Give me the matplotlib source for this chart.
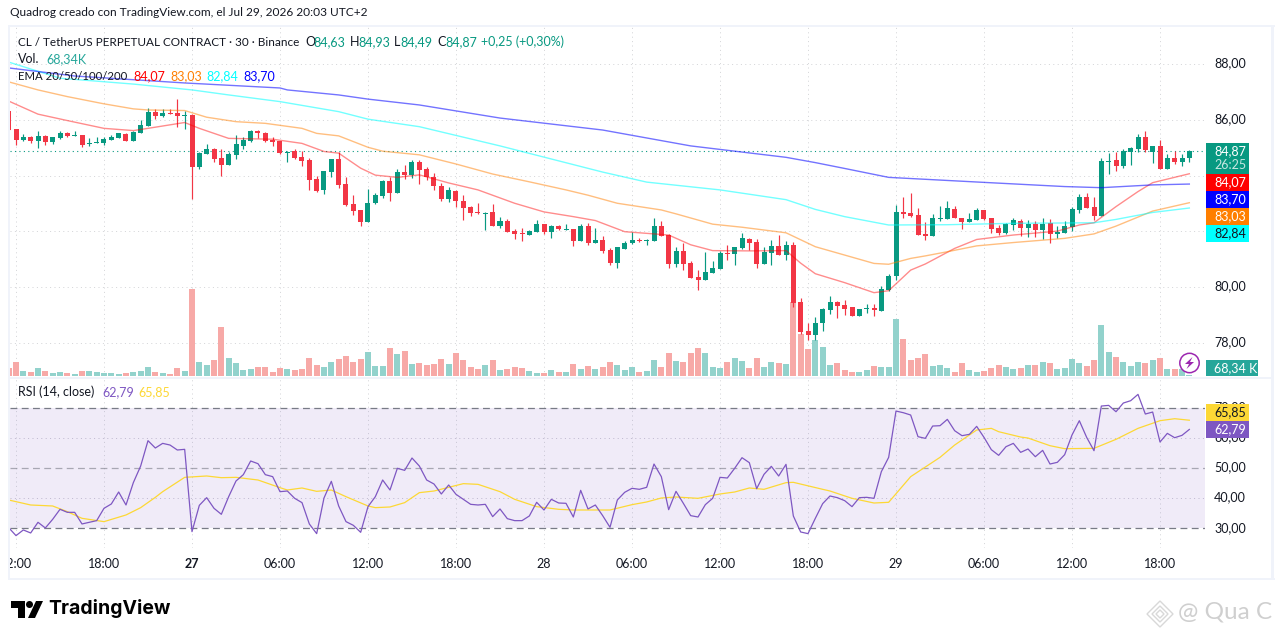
import numpy as np
import matplotlib
matplotlib.use('Agg')
import matplotlib.pyplot as plt
from matplotlib.patches import Rectangle, Circle, Polygon

# CANVAS (PIXELS)
WIDTH, HEIGHT = 1281, 639
PANE_L, PANE_R = 10, 1205
PRICE_TOP, PRICE_BOTTOM = 27, 376
RSI_TOP, RSI_BOTTOM = 379, 548
BAR_PX = 88 / 12  # 12 half-hour bars per 6h tick
BAR0_PX = 16

UP_COLOR = '#089981'
DOWN_COLOR = '#f23645'
VOL_UP_COLOR = '#92d2cc'
VOL_DOWN_COLOR = '#f7a9a7'
TEXT_COLOR = '#131722'
FONT = 'Lato'

## DATA
first_bar = -1
opens = [86.33, 85.68, 85.28, 85.39, 85.25, 85.43, 85.21, 85.36, 85.54, 85.43, 85.46, 85.14, 85.18, 85.18, 85.28, 85.36, 85.50, 85.25, 85.54, 85.79,
         86.29, 86.15, 86.25, 86.25, 86.15, 86.18, 84.32, 84.78, 84.96, 84.64, 84.39, 84.75, 85.07, 85.25, 85.61, 85.54, 85.28, 85.25, 84.82, 84.89,
         84.67, 84.57, 83.88, 83.49, 84.14, 84.60, 83.70, 82.99, 82.77, 82.34, 83.02, 83.27, 83.81, 83.38, 84.14, 84.03, 84.50, 84.25, 83.95, 83.62,
         83.17, 83.45, 83.09, 82.88, 82.70, 82.63, 82.70, 82.20, 82.38, 82.02, 81.95, 81.87, 81.98, 82.27, 81.98, 82.20, 82.05, 82.09, 81.66, 82.20,
         81.59, 81.69, 81.34, 80.87, 81.37, 81.59, 81.69, 81.66, 81.66, 82.20, 81.87, 80.83, 81.30, 80.87, 80.37, 80.26, 80.51, 80.65, 81.23, 81.19,
         81.41, 81.73, 81.62, 80.83, 81.23, 81.48, 81.16, 81.52, 79.47, 78.43, 78.28, 78.71, 79.18, 79.47, 79.36, 79.28, 78.96, 79.21, 79.25, 79.14,
         79.90, 80.40, 82.70, 82.66, 82.59, 81.91, 81.83, 82.44, 82.44, 82.80, 82.48, 82.34, 82.41, 82.77, 82.48, 82.12, 81.94, 82.23, 82.37, 82.12,
         82.27, 82.05, 82.30, 81.91, 81.94, 82.16, 82.77, 83.23, 82.88, 82.55, 84.49, 84.56, 84.35, 84.85, 84.96, 85.39, 84.85, 85.07, 84.24, 84.64,
         84.49, 84.63]
highs = [86.33, 85.68, 85.50, 85.43, 85.61, 85.46, 85.39, 85.61, 85.57, 85.61, 85.46, 85.36, 85.39, 85.39, 85.46, 85.54, 85.54, 85.61, 86.00, 86.43,
         86.40, 86.40, 86.40, 86.76, 86.33, 86.22, 84.85, 85.14, 85.00, 84.96, 84.85, 85.46, 85.39, 85.64, 85.64, 85.57, 85.39, 85.25, 84.89, 84.96,
         84.89, 84.64, 83.99, 84.17, 84.60, 84.85, 83.96, 83.31, 82.77, 83.53, 83.38, 83.85, 83.96, 84.24, 84.39, 84.57, 84.57, 84.32, 84.10, 83.72,
         83.58, 83.50, 83.31, 82.92, 83.02, 82.70, 82.99, 82.52, 82.45, 82.09, 82.13, 82.05, 82.41, 82.27, 82.23, 82.23, 82.27, 82.09, 82.27, 82.30,
         82.13, 81.84, 81.41, 81.44, 81.66, 81.98, 81.77, 81.73, 82.48, 82.38, 81.91, 81.44, 81.59, 80.94, 80.62, 81.26, 80.94, 81.30, 81.52, 81.44,
         81.95, 81.77, 81.73, 81.44, 81.69, 81.87, 81.66, 81.62, 79.61, 78.71, 78.93, 79.25, 79.68, 79.50, 79.54, 79.28, 79.21, 79.39, 79.39, 80.04,
         80.47, 82.95, 83.23, 83.38, 82.84, 82.34, 82.62, 82.91, 83.09, 82.91, 82.48, 82.66, 82.84, 82.77, 82.48, 82.23, 82.30, 82.48, 82.44, 82.41,
         82.37, 82.48, 82.44, 82.19, 82.37, 82.88, 83.34, 83.38, 83.23, 84.64, 84.82, 84.85, 84.96, 85.03, 85.50, 85.60, 85.07, 85.28, 84.78, 84.89,
         84.78, 84.93]
lows = [85.64, 85.11, 85.25, 85.18, 85.00, 85.11, 85.14, 85.32, 85.39, 85.43, 85.03, 85.07, 85.18, 85.11, 85.28, 85.36, 85.25, 85.25, 85.54, 85.79,
        86.04, 86.11, 86.22, 85.75, 85.68, 83.17, 84.24, 84.78, 84.50, 83.99, 84.39, 84.60, 84.96, 85.21, 85.36, 85.21, 85.07, 84.78, 84.50, 84.60,
        84.35, 83.49, 83.42, 83.35, 83.96, 83.56, 82.92, 82.59, 82.20, 82.34, 82.99, 83.20, 83.09, 83.38, 83.88, 83.92, 83.70, 83.85, 83.50, 83.10,
        83.06, 82.88, 82.41, 82.56, 82.63, 82.05, 82.20, 82.13, 81.98, 81.73, 81.66, 81.87, 81.98, 81.91, 81.77, 82.05, 82.05, 81.48, 81.66, 81.52,
        81.59, 81.23, 80.80, 80.69, 81.37, 81.55, 81.62, 81.52, 81.66, 81.84, 80.69, 80.72, 80.62, 80.33, 79.90, 80.26, 80.51, 80.65, 80.98, 80.80,
        81.37, 81.34, 80.69, 80.83, 80.80, 81.16, 80.98, 79.29, 78.32, 78.10, 78.10, 78.43, 79.04, 78.89, 79.00, 78.96, 78.96, 79.07, 78.96, 79.14,
        79.86, 80.25, 82.48, 82.52, 81.87, 81.69, 81.83, 82.37, 82.44, 82.48, 82.09, 82.34, 82.41, 82.41, 81.94, 81.87, 81.91, 82.05, 81.83, 81.80,
        81.80, 81.73, 81.58, 81.76, 81.94, 82.01, 82.66, 82.84, 82.41, 82.55, 84.06, 84.17, 84.28, 84.38, 84.85, 84.85, 84.46, 84.24, 84.24, 84.42,
        84.35, 84.49]
closes = [85.64, 85.28, 85.39, 85.25, 85.43, 85.21, 85.39, 85.54, 85.43, 85.46, 85.11, 85.18, 85.21, 85.32, 85.39, 85.54, 85.25, 85.57, 85.82, 86.29,
          86.15, 86.25, 86.22, 86.15, 86.18, 84.32, 84.82, 84.96, 84.60, 84.39, 84.78, 85.14, 85.28, 85.61, 85.54, 85.25, 85.21, 84.82, 84.85, 84.64,
          84.53, 83.85, 83.45, 84.17, 84.60, 83.67, 82.95, 82.73, 82.34, 83.02, 83.31, 83.81, 83.38, 84.14, 84.03, 84.50, 84.21, 83.95, 83.62, 83.17,
          83.50, 83.09, 82.84, 82.66, 82.66, 82.66, 82.20, 82.38, 81.98, 81.91, 81.91, 82.02, 82.27, 81.98, 82.20, 82.09, 82.09, 81.66, 82.20, 81.59,
          81.69, 81.30, 80.87, 81.44, 81.59, 81.69, 81.66, 81.69, 82.20, 81.84, 80.83, 81.30, 80.83, 80.33, 80.26, 80.55, 80.69, 81.23, 81.19, 81.44,
          81.77, 81.59, 80.83, 81.26, 81.48, 81.16, 81.52, 79.43, 78.39, 78.28, 78.71, 79.22, 79.47, 79.32, 79.21, 78.96, 79.21, 79.25, 79.18, 79.93,
          80.40, 82.70, 82.62, 82.55, 81.87, 81.83, 82.48, 82.48, 82.84, 82.48, 82.34, 82.44, 82.77, 82.44, 82.09, 81.94, 82.27, 82.41, 82.12, 82.27,
          82.05, 82.27, 81.91, 81.98, 82.19, 82.80, 83.23, 82.84, 82.55, 84.53, 84.53, 84.35, 84.89, 84.99, 85.39, 84.92, 85.07, 84.24, 84.64, 84.49,
          84.64, 84.87]
volumes_k = [547, 957, 342, 273, 547, 342, 205, 273, 205, 137, 342, 342, 273, 205, 205, 137, 205, 273, 342, 615,
             273, 205, 137, 547, 342, 5946, 957, 752, 1093, 3349, 1230, 888, 410, 478, 615, 615, 273, 547, 478, 410,
             478, 1230, 752, 615, 957, 1162, 1367, 957, 1162, 1640, 683, 683, 1913, 1503, 1708, 820, 888, 752, 820, 1162,
             820, 1572, 1093, 615, 478, 752, 1093, 410, 478, 615, 547, 342, 205, 205, 410, 273, 273, 820, 478, 683,
             478, 615, 957, 752, 410, 615, 273, 342, 1093, 615, 1572, 1025, 957, 1572, 1913, 1572, 615, 547, 957, 1230,
             1025, 547, 1230, 615, 957, 888, 820, 5057, 2870, 1845, 2460, 1982, 752, 888, 410, 273, 273, 410, 683, 615,
             615, 3895, 2528, 1093, 1230, 1503, 683, 752, 547, 273, 888, 410, 273, 342, 547, 752, 615, 478, 547, 752,
             752, 957, 888, 478, 547, 1162, 888, 683, 1093, 3485, 1640, 1298, 957, 683, 957, 888, 1093, 1230, 478, 478,
             478, 68]

ema20_bars = [-1, 3, 7, 12, 16, 18, 23, 25, 29, 35, 39, 42, 44, 47, 49, 52, 55, 59, 63, 68, 72, 76, 79, 83, 87, 89, 92, 95, 100, 105, 107, 109, 113, 117, 119, 122, 124, 128, 131, 136, 142, 145, 147, 150, 153, 155, 160]
ema20 = [86.68, 86.21, 85.98, 85.70, 85.62, 85.70, 85.91, 85.70, 85.34, 85.31, 85.16, 84.87, 84.81, 84.27, 84.02, 83.94, 84.03, 83.74, 83.49, 83.01, 82.70, 82.53, 82.39, 81.99, 81.91, 81.87, 81.52, 81.31, 81.30, 81.31, 80.86, 80.48, 80.16, 79.80, 79.87, 80.61, 80.83, 81.39, 81.71, 81.87, 82.01, 82.23, 82.31, 82.89, 83.43, 83.75, 84.07]
ema50_bars = [-1, 3, 7, 12, 16, 18, 23, 26, 30, 34, 39, 41, 44, 48, 50, 55, 60, 65, 70, 75, 78, 82, 88, 90, 95, 99, 105, 109, 113, 117, 119, 122, 124, 127, 131, 136, 143, 147, 150, 155, 160]
ema50 = [87.37, 87.08, 86.84, 86.58, 86.40, 86.36, 86.34, 86.10, 85.94, 85.88, 85.70, 85.52, 85.43, 85.02, 84.88, 84.75, 84.42, 84.06, 83.78, 83.49, 83.30, 83.01, 82.77, 82.63, 82.26, 82.15, 81.95, 81.45, 81.15, 80.85, 80.82, 81.03, 81.12, 81.27, 81.48, 81.60, 81.75, 81.91, 82.19, 82.73, 83.03]
ema100_bars = [-1, 6, 16, 24, 29, 36, 44, 48, 55, 66, 80, 86, 96, 105, 109, 113, 119, 127, 136, 147, 150, 155, 160]
ema100 = [88.08, 87.50, 87.29, 87.08, 86.90, 86.66, 86.30, 86.03, 85.76, 85.07, 84.13, 83.77, 83.49, 83.14, 82.79, 82.53, 82.23, 82.24, 82.29, 82.31, 82.43, 82.68, 82.84]
ema200_bars = [-1, 8, 23, 36, 37, 44, 48, 55, 66, 80, 92, 105, 109, 113, 119, 132, 143, 148, 155, 160]
ema200 = [87.87, 87.58, 87.33, 87.15, 87.08, 86.90, 86.75, 86.54, 86.07, 85.64, 85.07, 84.66, 84.47, 84.26, 83.94, 83.76, 83.61, 83.57, 83.67, 83.70]

rsi_values = [30.22, 27.57, 29.45, 28.45, 31.99, 30.11, 32.98, 36.30, 35.30, 35.30, 31.44, 31.99, 32.54, 36.63, 38.07, 42.04, 37.73, 45.14, 50.66, 59.06,
              56.63, 58.17, 57.62, 55.97, 56.19, 28.89, 37.62, 40.16, 36.63, 34.64, 40.49, 45.69, 47.79, 52.32, 51.43, 47.79, 47.13, 42.15, 42.37, 39.94,
              38.51, 31.44, 28.23, 40.05, 45.58, 37.40, 32.21, 30.99, 28.67, 37.18, 40.49, 46.02, 42.70, 49.89, 49.22, 53.31, 50.66, 46.02, 44.69, 41.38,
              44.36, 41.27, 39.61, 37.95, 37.73, 37.95, 33.87, 36.41, 33.20, 32.54, 32.54, 34.09, 38.62, 36.07, 39.61, 38.39, 38.29, 33.75, 42.59, 36.41,
              37.73, 34.20, 30.33, 39.39, 41.93, 43.26, 42.93, 43.59, 51.32, 47.13, 36.18, 42.26, 38.29, 34.20, 33.75, 37.84, 39.94, 46.90, 46.68, 49.89,
              53.42, 51.77, 43.15, 47.90, 50.55, 47.35, 51.21, 34.09, 28.78, 28.23, 33.31, 38.18, 40.72, 40.16, 39.17, 37.18, 40.16, 40.27, 39.94, 48.78,
              53.53, 68.89, 68.34, 67.57, 60.39, 59.83, 63.92, 64.03, 66.13, 62.37, 60.72, 61.16, 63.81, 60.16, 56.08, 54.20, 57.07, 58.17, 55.19, 56.30,
              53.75, 55.85, 51.32, 51.88, 54.42, 60.94, 65.69, 60.16, 55.74, 70.55, 70.77, 68.67, 71.55, 72.32, 74.42, 67.90, 68.56, 58.62, 61.49, 60.05,
              60.83, 62.79]
rsi_ma_bars = [-1, 2, 5, 7, 9, 12, 15, 17, 19, 20, 23, 26, 28, 30, 33, 36, 37, 39, 41, 43, 45, 48, 49, 51, 53, 55, 57, 61, 63, 66, 68, 71, 74, 76, 81, 84, 86, 88, 90, 93, 96, 98, 100, 102, 105, 106, 110, 111, 114, 117, 119, 122, 126, 128, 131, 133, 134, 137, 138, 141, 143, 147, 150, 153, 156, 158, 160]
rsi_ma = [39.39, 37.73, 37.40, 35.52, 33.31, 32.21, 34.42, 36.85, 40.27, 42.15, 46.90, 47.35, 46.79, 46.90, 46.02, 43.48, 42.70, 43.37, 42.26, 42.70, 40.49, 37.40, 36.85, 37.07, 38.51, 41.82, 42.37, 44.81, 44.58, 42.15, 39.61, 37.18, 36.30, 36.07, 36.07, 37.84, 38.73, 40.05, 40.38, 39.94, 41.38, 42.04, 43.37, 42.93, 45.14, 45.25, 42.93, 42.37, 39.94, 38.39, 38.62, 47.13, 53.53, 57.62, 62.60, 63.15, 62.04, 60.27, 59.94, 57.40, 56.41, 56.52, 59.50, 63.15, 65.69, 66.35, 65.85]

price_ticks = [88, 86, 84, 82, 80, 78]
price_labels = ['88,00', '86,00', '', '', '80,00', '78,00']
rsi_ticks = [70, 60, 50, 40, 30]
rsi_labels = ['70,00', '60,00', '50,00', '40,00', '30,00']
time_bars = [0, 12, 24, 36, 48, 60, 72, 84, 96, 108, 120, 132, 144, 156]
time_labels = ['12:00', '18:00', '27', '06:00', '12:00', '18:00', '28', '06:00', '12:00', '18:00', '29', '06:00', '12:00', '18:00']
last_close = closes[-1]

# PIXEL-TO-VALUE MAPPINGS (y in image pixels)
PRICE_AT_Y = lambda y: 88 - (y - 64.3) / 27.85
RSI_AT_Y = lambda y: 30 + (528.3 - y) / 3.015


def MakeAxes(fig, left, top, right, bottom, **kw):
    # MakeAxes(): Add Axes from Image Pixel Box
    return fig.add_axes([left / WIDTH, 1 - bottom / HEIGHT, (right - left) / WIDTH, (bottom - top) / HEIGHT], **kw)


def BarToPx(bar_limit_px):
    # BarToPx(): Bar Index at Image X Pixel
    return (bar_limit_px - BAR0_PX) / BAR_PX


def Dotted(ax, kind, pos, color='#d4d5d8'):
    # Dotted(): 1px Dotted Grid Line
    fn = ax.axvline if kind == 'v' else ax.axhline
    fn(pos, color=color, lw=0.72, ls=(0, (1, 3.4)), zorder=0.5)


fig = plt.figure(figsize=(WIDTH / 100, HEIGHT / 100), dpi=100, facecolor='white')

## PRICE PANE
bars = np.arange(first_bar, first_bar + len(closes))
o, h, l, c = map(np.array, (opens, highs, lows, closes))
up = c >= o
xlim = (BarToPx(PANE_L), BarToPx(PANE_R))

ax = MakeAxes(fig, PANE_L, PRICE_TOP, PANE_R, PRICE_BOTTOM, zorder=2)
ax.set_xlim(xlim)
ax.set_ylim(PRICE_AT_Y(PRICE_BOTTOM), PRICE_AT_Y(PRICE_TOP))
ax.axis('off')
for tick in price_ticks:
    Dotted(ax, 'h', tick)
for bar in time_bars:
    Dotted(ax, 'v', bar)

# Volume sits in its own axes under the candles, same pixel box
ax_vol = MakeAxes(fig, PANE_L, PRICE_TOP, PANE_R, PRICE_BOTTOM, zorder=3)
ax_vol.set_xlim(xlim)
ax_vol.set_ylim(0, (PRICE_BOTTOM - PRICE_TOP) * 68.34)
ax_vol.axis('off')
ax_vol.patch.set_alpha(0)
ax_vol.bar(bars, volumes_k, width=6 / BAR_PX, color=[VOL_UP_COLOR if u else VOL_DOWN_COLOR for u in up], linewidth=0)

ax_c = MakeAxes(fig, PANE_L, PRICE_TOP, PANE_R, PRICE_BOTTOM, zorder=4)
ax_c.set_xlim(xlim)
ax_c.set_ylim(ax.get_ylim())
ax_c.axis('off')
ax_c.patch.set_alpha(0)
colors = [UP_COLOR if u else DOWN_COLOR for u in up]
ax_c.vlines(bars, l, h, colors=colors, lw=0.85, zorder=3)
ax_c.bar(bars, np.abs(c - o), bottom=np.minimum(o, c), width=5 / BAR_PX, color=colors, linewidth=0, zorder=3)
ax_c.axhline(last_close, color=UP_COLOR, lw=0.8, ls=(0, (1, 3)), zorder=2)
ax_c.plot(ema20_bars, ema20, color='#ff0000', alpha=0.45, lw=1.0, zorder=4)
ax_c.plot(ema50_bars, ema50, color='#ff7f00', alpha=0.5, lw=1.0, zorder=4)
ax_c.plot(ema100_bars, ema100, color='#00ffff', alpha=0.55, lw=1.0, zorder=4)
ax_c.plot(ema200_bars, ema200, color='#0000ff', alpha=0.55, lw=1.0, zorder=4)

## RSI PANE
ax_r = MakeAxes(fig, PANE_L, RSI_TOP, PANE_R, RSI_BOTTOM, zorder=2)
ax_r.set_xlim(xlim)
ax_r.set_ylim(RSI_AT_Y(RSI_BOTTOM), RSI_AT_Y(RSI_TOP))
ax_r.axis('off')
ax_r.axhspan(30, 70, color='#7e57c2', alpha=0.115, linewidth=0)
for bar in time_bars:
    Dotted(ax_r, 'v', bar)
for tick in (60, 40):
    Dotted(ax_r, 'h', tick, color='#c9c6d3')
ax_r.axhline(70, color='#787b86', lw=0.9, ls=(0, (5.5, 3.5)))
ax_r.axhline(50, color='#787b86', lw=0.9, ls=(0, (5.5, 3.5)), alpha=0.6)
ax_r.axhline(30, color='#787b86', lw=0.9, ls=(0, (5.5, 3.5)))
ax_r.plot(rsi_ma_bars, rsi_ma, color='#fdd835', lw=0.9)
ax_r.plot(bars, rsi_values, color='#7e57c2', lw=0.9)

## TIME AXIS
ax_t = MakeAxes(fig, PANE_L, RSI_BOTTOM, PANE_R, 578, zorder=2)
ax_t.set_xlim(xlim)
ax_t.set_ylim(578, RSI_BOTTOM)
ax_t.axis('off')
for bar, label in zip(time_bars, time_labels):
    ax_t.text(bar, 564, label, ha='center', va='center', fontsize=9, family=FONT, color=TEXT_COLOR,
              fontweight='bold' if label == '27' else 'normal', clip_on=True)

## OVERLAY (FRAME, TAGS, LEGEND, LOGOS)
ov = MakeAxes(fig, 0, 0, WIDTH, HEIGHT, zorder=6)
ov.set_xlim(0, WIDTH)
ov.set_ylim(HEIGHT, 0)
ov.axis('off')
ov.patch.set_alpha(0)

FRAME = '#f0f3fa'
for box in [(8, 25, 1267, 2), (8, 25, 2, 555), (8, 578, 1267, 2), (1271, 25, 3, 555), (PANE_L, 376.5, 1261, 2.5)]:
    ov.add_patch(Rectangle((box[0], box[1]), box[2], box[3], color=FRAME, linewidth=0))


def Txt(x, y, s, color=TEXT_COLOR, size=9, **kw):
    # Txt(): Text at Image Pixel, Left-Aligned, Vertically Centred
    kw.setdefault('family', FONT)
    kw.setdefault('ha', 'left')
    ov.text(x, y, s, color=color, fontsize=size, va='center', **kw)


def Tag(top, bottom, right, face, s, color='white'):
    # Tag(): Coloured Value Box on the Price Scale, Drawn Over the Scale Labels
    ov.add_patch(Rectangle((1206, top), right - 1206, bottom - top, color=face, linewidth=0, zorder=5))
    Txt(1214, (top + bottom) / 2, s, color=color, zorder=6)


Txt(10, 12, 'Quadrog creado con TradingView.com, el Jul 29, 2026 20:03 UTC+2', size=8.6)

# Legend rows
Txt(18, 42, 'CL / TetherUS PERPETUAL CONTRACT · 30 · Binance', size=8.45)
for x, s, color in [(305, 'O', TEXT_COLOR), (313, '84,63', UP_COLOR), (350, 'H', TEXT_COLOR), (358, '84,93', UP_COLOR),
                    (394, 'L', TEXT_COLOR), (400, '84,49', UP_COLOR), (437, 'C', TEXT_COLOR), (445, '84,87', UP_COLOR),
                    (481, '+0,25 (+0,30%)', UP_COLOR)]:
    Txt(x, 42, s, color=color)
Txt(18, 59, 'Vol.')
Txt(46, 59, '68,34K', color='#26a69a')
Txt(18, 76, 'EMA 20/50/100/200', size=8.2)
for x, s, color in [(133, '84,07', '#ff0000'), (170, '83,03', '#ff7f00'), (206, '82,84', '#00ffff'), (243, '83,70', '#0000ff')]:
    Txt(x, 76, s, color=color)
Txt(18, 392, 'RSI (14, close)')
Txt(102, 392, '62,79', color='#7e57c2')
Txt(138, 392, '65,85', color='#fdd835')

# Price and RSI scale labels
for tick, label in zip(price_ticks, price_labels):
    if label:
        Txt(1214, 64.3 + (88 - tick) * 27.85 - 1, label)
for tick, label in zip(rsi_ticks, rsi_labels):
    Txt(1214, 528.3 - (tick - 30) * 3.015 - 0.5, label)

ov.add_patch(Rectangle((1206, 143), 43, 31, color=UP_COLOR, linewidth=0))
Txt(1214, 151, '84,87', color='white')
Txt(1214, 165, '26:25', color='#c6e7e1')
Tag(174, 191, 1249, '#ff0000', '84,07')
Tag(191, 208, 1249, '#0000ff', '83,70')
Tag(208, 225, 1249, '#ff7f00', '83,03')
Tag(225, 242, 1249, '#00ffff', '82,84', color=TEXT_COLOR)
Tag(360, 376, 1258, '#26a69a', '68,34 K')
Tag(404, 421, 1249, '#fdd835', '65,85', color=TEXT_COLOR)
Tag(421, 438, 1249, '#7e57c2', '62,79')

# Lightning badge
ov.add_patch(Circle((1189.5, 363), 9.7, facecolor='white', edgecolor='#9c27b0', lw=1.1))
ov.add_patch(Polygon([(1192.5, 357), (1185, 364), (1189, 364), (1186.5, 369), (1194, 362), (1190, 362)], color='#9c27b0', linewidth=0))

# TradingView logo
ov.add_patch(Polygon([(11, 601), (25, 601), (25, 618), (18, 618), (18, 608), (11, 608)], color='black', linewidth=0))
ov.add_patch(Circle((29.5, 604.5), 3.5, color='black', linewidth=0))
ov.add_patch(Polygon([(36, 601), (43, 601), (35, 618), (28, 618)], color='black', linewidth=0))
Txt(48, 609, 'TradingView', color='black', size=14, fontweight='bold', family='Inter')

# Watermark
for size in (13, 8, 4):
    ov.add_patch(Polygon([(1160, 614 - size), (1160 + size, 614), (1160, 614 + size), (1160 - size, 614)],
                         fill=False, edgecolor='#d8d8d8', lw=1.0))
Txt(1178, 612, '@ Qua C', color='#cfcfcf', size=17.5)

fig.savefig('out.png', dpi=100, facecolor='white')
